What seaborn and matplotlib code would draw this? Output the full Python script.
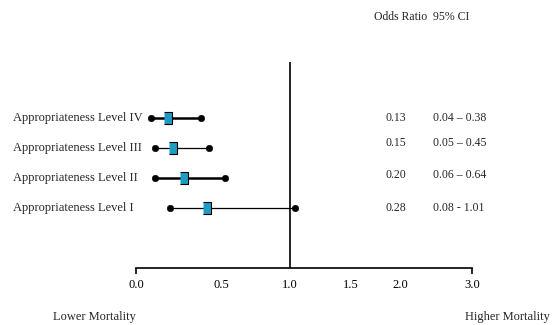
import matplotlib
matplotlib.use("Agg")
import matplotlib.pyplot as plt
import matplotlib.transforms as mtrans
import numpy as np
import pandas as pd
import seaborn as sns

# rows, top to bottom
levels = ["Appropriateness Level IV", "Appropriateness Level III",
          "Appropriateness Level II", "Appropriateness Level I"]
# positions as drawn on the chart's (non-linear) axis
odds_drawn = [0.19, 0.22, 0.28, 0.42]
low_drawn = [0.09, 0.11, 0.11, 0.20]
high_drawn = [0.38, 0.43, 0.53, 1.04]
# printed table
odds_txt = ["0.13", "0.15", "0.20", "0.28"]
ci_txt = ["0.04 \u2013 0.38", "0.05 \u2013 0.45", "0.06 \u2013 0.64", "0.08 - 1.01"]
tick_vals = [0.0, 0.5, 1.0, 1.5, 2.0, 3.0]
tick_lbls = ["0.0", "0.5", "1.0", "1.5", "2.0", "3.0"]
tick_px = [0, 85, 154, 215, 264, 336]  # where the hand-drawn axis puts them

df = pd.DataFrame({"level": levels, "odds": odds_drawn, "low": low_drawn,
                   "high": high_drawn, "row": [4, 3, 2, 1]})

sns.set_theme(style="white")
plt.rcParams["font.family"] = ["Liberation Serif", "DejaVu Serif"]

fig = plt.figure(figsize=(5.53, 3.25), dpi=100)
ax = fig.add_axes([136 / 553, 1 - 268 / 325, 336 / 553, (268 - 62) / 325])

fwd = lambda x: np.interp(x, tick_vals, tick_px)
inv = lambda y: np.interp(y, tick_px, tick_vals)
ax.set_xscale("function", functions=(fwd, inv))
ax.set_xlim(0, 3)
ax.set_ylim(-1, 5.87)

# CI bars (IV and II drawn heavier in the original)
widths = [1.8, 0.9, 1.8, 0.9]
for (_, r), w in zip(df.iterrows(), widths):
    ax.plot([r.low, r.high], [r.row, r.row], color="black", lw=w, zorder=2)

ends = pd.concat([df[["low", "row"]].rename(columns={"low": "x"}),
                  df[["high", "row"]].rename(columns={"high": "x"})])
sns.scatterplot(data=ends, x="x", y="row", ax=ax, color="black", s=22,
                marker="o", edgecolor="black", zorder=3)
box = [(-0.6, -1), (0.6, -1), (0.6, 1), (-0.6, 1)]
sns.scatterplot(data=df, x="odds", y="row", ax=ax, color="#1f9cc4", s=75,
                marker=box, edgecolor="black", linewidth=0.8, zorder=4)

ax.axvline(1.0, color="black", lw=1.2, zorder=1)

for s in ["top", "right", "left"]:
    ax.spines[s].set_visible(False)
ax.spines["bottom"].set_color("black")
ax.spines["bottom"].set_linewidth(1.2)
ax.set_yticks([])
ax.set_xticks(tick_vals)
ax.set_xticklabels(tick_lbls, fontsize=9)
ax.tick_params(axis="x", which="major", bottom=True, length=0, pad=8, colors="black")
ax.xaxis.remove_overlapping_locs = False
ax.set_xticks([0.0, 3.0], minor=True)
ax.tick_params(axis="x", which="minor", bottom=True, length=4, width=1.2, color="black")
ax.set_xlabel("")
ax.set_ylabel("")

# labels on the left and the odds-ratio table on the right
trans_px = mtrans.blended_transform_factory(mtrans.IdentityTransform(), ax.transData)
table_shift = [0, 0.17, 0.1, 0]
for lbl, r, o, c, d in zip(levels, df["row"], odds_txt, ci_txt, table_shift):
    ax.text(13, r, lbl, fontsize=9, ha="left", va="center", transform=trans_px)
    ax.text(396, r + d, o, fontsize=8.5, ha="center", va="center", transform=trans_px)
    ax.text(433, r + d, c, fontsize=8.5, ha="left", va="center", transform=trans_px)

fig.text(427 / 553, 1 - 17 / 325, "Odds Ratio", fontsize=8.5, ha="right", va="center")
fig.text(433 / 553, 1 - 17 / 325, "95% CI", fontsize=8.5, ha="left", va="center")
fig.text(53 / 553, 1 - 317 / 325, "Lower Mortality", fontsize=9, ha="left", va="center")
fig.text(550 / 553, 1 - 317 / 325, "Higher Mortality", fontsize=9, ha="right", va="center")

fig.savefig("out.png", dpi=100)
